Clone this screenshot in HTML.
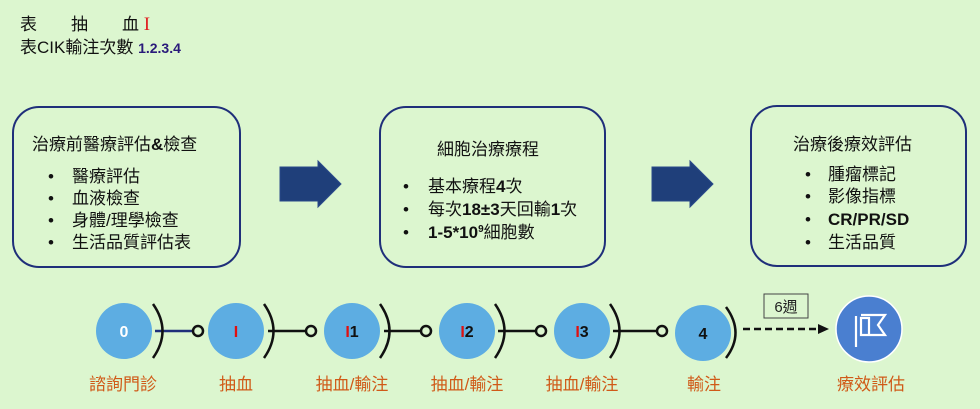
<!DOCTYPE html>
<html><head><meta charset="utf-8"><style>
html,body{margin:0;padding:0;background:#dcf6cf;}
svg{display:block}
text{font-family:"Liberation Sans","Noto Sans CJK TC",sans-serif;}
</style></head><body>
<svg width="980" height="409" viewBox="0 0 980 409" xmlns="http://www.w3.org/2000/svg">
<rect width="980" height="409" fill="#dcf6cf"/>
<text x="20" y="30" font-size="17" fill="#111">表　　抽　　血 <tspan fill="#e02020" font-family="Liberation Serif" font-size="19">I</tspan></text>
<text x="20" y="53" font-size="17" fill="#111">表CIK輸注次數 <tspan fill="#2a1a7a" font-weight="bold" font-size="14">1.2.3.4</tspan></text>

<g fill="none" stroke="#1f2f7a" stroke-width="2">
<rect x="13" y="107" width="227" height="160" rx="26"/>
<rect x="380" y="107" width="225" height="160" rx="26"/>
<rect x="751" y="106" width="215" height="160" rx="26"/>
</g>
<g fill="#1f3f7a" stroke="#2a4a8a" stroke-width="1">
<polygon points="280,167 318,167 318,161 341,184 318,207 318,201 280,201"/>
<polygon points="652,167 690,167 690,161 713,184 690,207 690,201 652,201"/>
</g>
<g font-size="17" fill="#111">
<text x="32" y="150">治療前醫療評估<tspan font-weight="bold">&amp;</tspan>檢查</text>
<text x="48" y="182">•</text><text x="72" y="182">醫療評估</text>
<text x="48" y="204">•</text><text x="72" y="204">血液檢查</text>
<text x="48" y="226">•</text><text x="72" y="226">身體/理學檢查</text>
<text x="48" y="248">•</text><text x="72" y="248">生活品質評估表</text>

<text x="437" y="155">細胞治療療程</text>
<text x="403" y="192">•</text><text x="428" y="192">基本療程<tspan font-weight="bold">4</tspan>次</text>
<text x="403" y="215">•</text><text x="428" y="215">每次<tspan font-weight="bold">18±3</tspan>天回輸<tspan font-weight="bold">1</tspan>次</text>
<text x="403" y="238">•</text><text x="428" y="238"><tspan font-weight="bold">1-5*10</tspan><tspan font-size="10" dy="-6" font-weight="bold">9</tspan><tspan dy="6">細胞數</tspan></text>

<text x="793" y="150">治療後療效評估</text>
<text x="805" y="180">•</text><text x="828" y="180">腫瘤標記</text>
<text x="805" y="202">•</text><text x="828" y="202">影像指標</text>
<text x="805" y="225">•</text><text x="828" y="225" font-weight="bold">CR/PR/SD</text>
<text x="805" y="248">•</text><text x="828" y="248">生活品質</text>
</g>

<line x1="155" y1="331" x2="192" y2="331" stroke="#1f2f7a" stroke-width="2.5"/>
<g stroke="#111" stroke-width="2.5" fill="none">
<line x1="268" y1="331" x2="306" y2="331"/>
<line x1="384" y1="331" x2="420" y2="331"/>
<line x1="498" y1="331" x2="536" y2="331"/>
<line x1="613" y1="331" x2="656" y2="331"/>
<path d="M153,304 Q172,331 153,358"/>
<path d="M264,304 Q283,331 264,358"/>
<path d="M380,304 Q399,331 380,358"/>
<path d="M495,304 Q514,331 495,358"/>
<path d="M610,304 Q629,331 610,358"/>
<path d="M726,307 Q745,333 726,358"/>
<circle cx="198" cy="331" r="5" fill="#dcf6cf"/>
<circle cx="311" cy="331" r="5" fill="#dcf6cf"/>
<circle cx="426" cy="331" r="5" fill="#dcf6cf"/>
<circle cx="541" cy="331" r="5" fill="#dcf6cf"/>
<circle cx="662" cy="331" r="5" fill="#dcf6cf"/>
</g>
<g fill="#5dade2">
<circle cx="124" cy="331" r="28"/>
<circle cx="236" cy="331" r="28"/>
<circle cx="352" cy="331" r="28"/>
<circle cx="467" cy="331" r="28"/>
<circle cx="582" cy="331" r="28"/>
<circle cx="703" cy="333" r="28"/>
</g>
<g font-size="16" font-weight="bold" text-anchor="middle">
<text x="124" y="337" fill="#fff">0</text>
<text x="236" y="337" fill="#e01010">I</text>
<text x="352" y="337" fill="#111"><tspan fill="#e01010">I</tspan>1</text>
<text x="467" y="337" fill="#111"><tspan fill="#e01010">I</tspan>2</text>
<text x="582" y="337" fill="#111"><tspan fill="#e01010">I</tspan>3</text>
<text x="703" y="339" fill="#111">4</text>
</g>
<line x1="743" y1="329" x2="820" y2="329" stroke="#111" stroke-width="2.5" stroke-dasharray="7,4"/>
<polygon points="818,324 829,329 818,334" fill="#111"/>
<rect x="764" y="294" width="44" height="24" fill="#dcf6cf" stroke="#444" stroke-width="1"/>
<text x="786" y="312" font-size="15" fill="#222" text-anchor="middle">6週</text>
<circle cx="869" cy="329" r="33" fill="#4a7fd0" stroke="#fff" stroke-width="1.5"/>
<g stroke="#fff" stroke-width="2.2" fill="none">
<line x1="856" y1="316" x2="856" y2="347"/>
<path d="M861,315 L885,315 L878,325 L885,335 L870,335"/>
<rect x="861" y="318" width="8" height="17"/>
</g>
<g font-size="17" fill="#d05a18" text-anchor="middle">
<text x="123" y="390">諮詢門診</text>
<text x="236" y="390">抽血</text>
<text x="352" y="390">抽血/輸注</text>
<text x="467" y="390">抽血/輸注</text>
<text x="582" y="390">抽血/輸注</text>
<text x="704" y="390">輸注</text>
<text x="871" y="390">療效評估</text>
</g>
</svg>
</body></html>
